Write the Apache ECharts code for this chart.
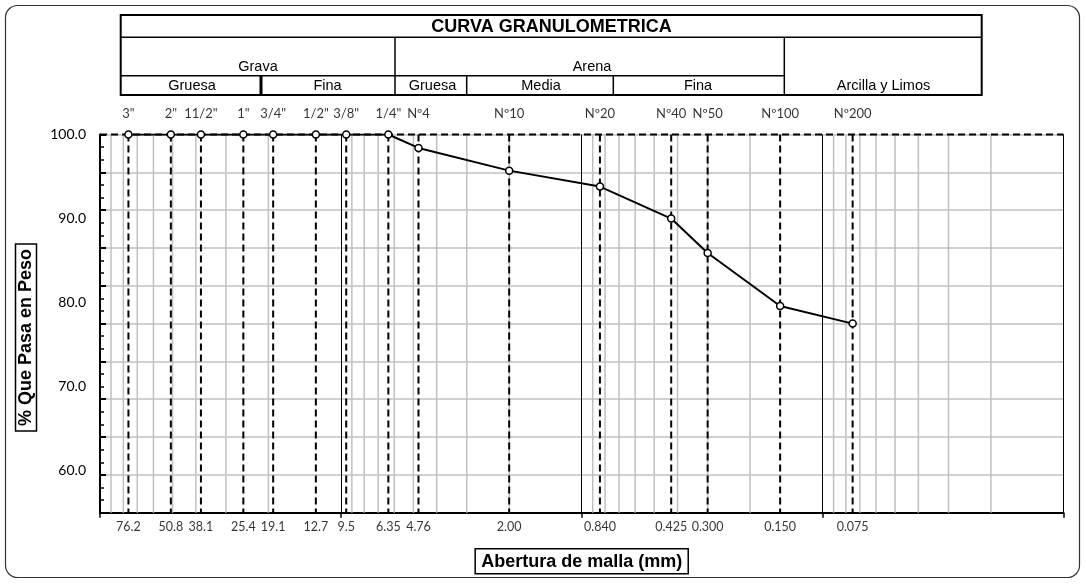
<!DOCTYPE html>
<html>
<head>
<meta charset="utf-8">
<script src="https://cdn.jsdelivr.net/npm/echarts@6/dist/echarts.min.js"></script>
<style>
  html, body { margin: 0; padding: 0; background: #fff; }
  #chart { width: 1086px; height: 584px; }
</style>
</head>
<body>
<div id="chart"></div>
<script>
// Sieve series (ASTM) used in the grain size test
const sieveNames = ['3"', '2"', '11/2"', '1"', '3/4"', '1/2"', '3/8"', '1/4"', 'Nº4', 'Nº10', 'Nº20', 'Nº40', 'Nº50', 'Nº100', 'Nº200'];
const openings = [76.2, 50.8, 38.1, 25.4, 19.1, 12.7, 9.5, 6.35, 4.76, 2.00, 0.840, 0.425, 0.300, 0.150, 0.075];
const openingLabels = ['76.2', '50.8', '38.1', '25.4', '19.1', '12.7', '9.5', '6.35', '4.76', '2.00', '0.840', '0.425', '0.300', '0.150', '0.075'];
// Percentage passing each sieve
const passing = [100, 100, 100, 100, 100, 100, 100, 100, 98.4, 95.7, 93.8, 90.0, 85.9, 79.6, 77.5];
// Labelled values on the percentage axis
const yTickValues = [60, 70, 80, 90, 100];

const Y_MIN = 55, Y_MAX = 100;
const X_MIN = 0.01, X_MAX = 100;
const LABEL_FONT = 'Lato, "Noto Sans", sans-serif';
const ARIAL = '"Liberation Sans", Arial, sans-serif';

// light log-cycle grid values (2..9 within each decade)
const minorValues = [];
[0.01, 0.1, 1, 10].forEach(function (d) {
  for (let m = 2; m <= 9; m++) minorValues.push(+(m * d).toPrecision(3));
});

const curve = openings.map((o, i) => [o, passing[i]]);

// a full-height vertical line at x, drawn through the axes
function vertical(x, lineStyle, z) {
  return { type: 'line', data: [[x, Y_MAX], [x, Y_MIN]], symbol: 'none', silent: true,
    lineStyle: lineStyle, z: z, clip: false };
}

const gridSeries = minorValues.map(v => vertical(v, { color: '#c0c0c0', width: 1.5, type: 'solid' }, 1));
const sieveSeries = openings.map(o => vertical(o, { color: '#000', width: 2, type: [7, 4] }, 2));

const chart = echarts.init(document.getElementById('chart'), null, { renderer: 'canvas' });

// header table geometry
const T = { l: 120.7, r: 981.7, t: 15, r1: 37.3, r2: 75.7, b: 95 };
function hline(x1, x2, y, w) { return { type: 'line', shape: { x1: x1, y1: y, x2: x2, y2: y }, style: { stroke: '#000', lineWidth: w || 1.5 }, silent: true }; }
function vline(x, y1, y2, w) { return { type: 'line', shape: { x1: x, y1: y1, x2: x, y2: y2 }, style: { stroke: '#000', lineWidth: w || 1.5 }, silent: true }; }
function txt(x, y, s, size, bold) {
  return { type: 'text', x: x, y: y, silent: true,
    style: { text: s, fill: '#000', font: (bold ? 'bold ' : '') + size + 'px ' + ARIAL, align: 'center', verticalAlign: 'middle' } };
}

chart.setOption({
  animation: false,
  backgroundColor: '#fff',
  grid: { left: 100, right: 22.6, top: 134.5, bottom: 71.3, containLabel: false },
  xAxis: {
    type: 'log', logBase: 10, min: X_MIN, max: X_MAX, inverse: true,
    name: 'Abertura de malla (mm)', nameLocation: 'middle', nameGap: 36,
    nameTextStyle: { fontFamily: ARIAL, fontWeight: 'bold', fontSize: 18, color: '#000',
      borderColor: '#000', borderWidth: 1.5, padding: [4, 6, 3, 6] },
    axisLine: { show: true, lineStyle: { color: '#000', width: 2 } },
    axisTick: { show: true, length: 5, lineStyle: { color: '#000', width: 1.5 } },
    axisLabel: { show: false },
    splitLine: { show: true, lineStyle: { color: '#000', width: 1 } }
  },
  yAxis: [
    {
      type: 'value', min: Y_MIN, max: Y_MAX, interval: 5, position: 'left',
      axisLine: { show: false }, axisTick: { show: false }, splitLine: { show: false },
      axisLabel: {
        margin: 14, fontFamily: LABEL_FONT, fontSize: 14, color: '#000',
        formatter: v => yTickValues.indexOf(Math.round(v)) >= 0 ? v.toFixed(1) : ''
      }
    },
    {
      // ten-division reference grid of the chart sheet
      type: 'value', min: 0, max: 10, interval: 1, position: 'left', offset: 0,
      axisLabel: { show: false },
      axisLine: { show: true, lineStyle: { color: '#000', width: 2 } },
      axisTick: { show: true, inside: true, length: 6, lineStyle: { color: '#000', width: 2 } },
      minorTick: { show: true, splitNumber: 3, length: 4, lineStyle: { color: '#000', width: 1.5 } },
      splitLine: { show: true, lineStyle: { color: '#c0c0c0', width: 1.5 } }
    }
  ],
  graphic: [
    // outer frame
    { type: 'rect', shape: { x: 5.5, y: 5.5, width: 1074, height: 572, r: 12 }, style: { fill: 'none', stroke: '#333', lineWidth: 1.2 }, silent: true, z: -1 },
    // classification table
    { type: 'rect', shape: { x: T.l, y: T.t, width: T.r - T.l, height: T.b - T.t }, style: { fill: 'none', stroke: '#000', lineWidth: 2 }, silent: true },
    hline(T.l, T.r, T.r1, 1.5),
    hline(T.l, 784.3, T.r2, 1.5),
    vline(395, T.r1, T.b, 1.5),
    vline(784.3, T.r1, T.b, 1.5),
    vline(261, T.r2, T.b, 3),
    vline(466.7, T.r2, T.b, 1.5),
    vline(613.3, T.r2, T.b, 1.5),
    txt(551.5, 27.5, 'CURVA GRANULOMETRICA', 18, true),
    txt(258, 66.5, 'Grava', 14.5),
    txt(592, 66.5, 'Arena', 14.5),
    txt(192, 86, 'Gruesa', 14.5),
    txt(327.5, 86, 'Fina', 14.5),
    txt(432.5, 86, 'Gruesa', 14.5),
    txt(541, 86, 'Media', 14.5),
    txt(698, 86, 'Fina', 14.5),
    txt(883.5, 86, 'Arcilla y Limos', 14.5),
    // vertical axis title
    { type: 'text', x: 26, y: 337.5, rotation: Math.PI / 2, silent: true,
      style: { text: '% Que Pasa en Peso', fill: '#000', font: 'bold 18px ' + ARIAL, align: 'center', verticalAlign: 'middle',
        borderColor: '#000', borderWidth: 1.5, padding: [2, 5, 1, 5] } }
  ],
  series: gridSeries.concat(sieveSeries, [
    {
      name: 'top', type: 'line', data: [[X_MAX, Y_MAX], [X_MIN, Y_MAX]], symbol: 'none', silent: true, z: 2, clip: false,
      lineStyle: { color: '#000', width: 2, type: [7, 4] }
    },
    {
      name: 'topLabels', type: 'scatter', symbolSize: 0, silent: true, z: 4,
      data: openings.map(o => [o, Y_MAX]),
      label: { show: true, position: 'top', distance: 14, fontFamily: LABEL_FONT, fontSize: 13, color: '#000',
        formatter: p => sieveNames[p.dataIndex] }
    },
    {
      name: 'bottomLabels', type: 'scatter', symbolSize: 0, silent: true, z: 4,
      data: openings.map(o => [o, Y_MIN]),
      label: { show: true, position: 'bottom', distance: 8, fontFamily: LABEL_FONT, fontSize: 12.5, color: '#000',
        formatter: p => openingLabels[p.dataIndex] }
    },
    {
      name: '% Que Pasa', type: 'line', data: curve, z: 5,
      symbol: 'circle', symbolSize: 7, showSymbol: true,
      lineStyle: { color: '#000', width: 2 },
      itemStyle: { color: '#fff', borderColor: '#000', borderWidth: 1.5 }
    }
  ])
});
</script>
</body>
</html>
